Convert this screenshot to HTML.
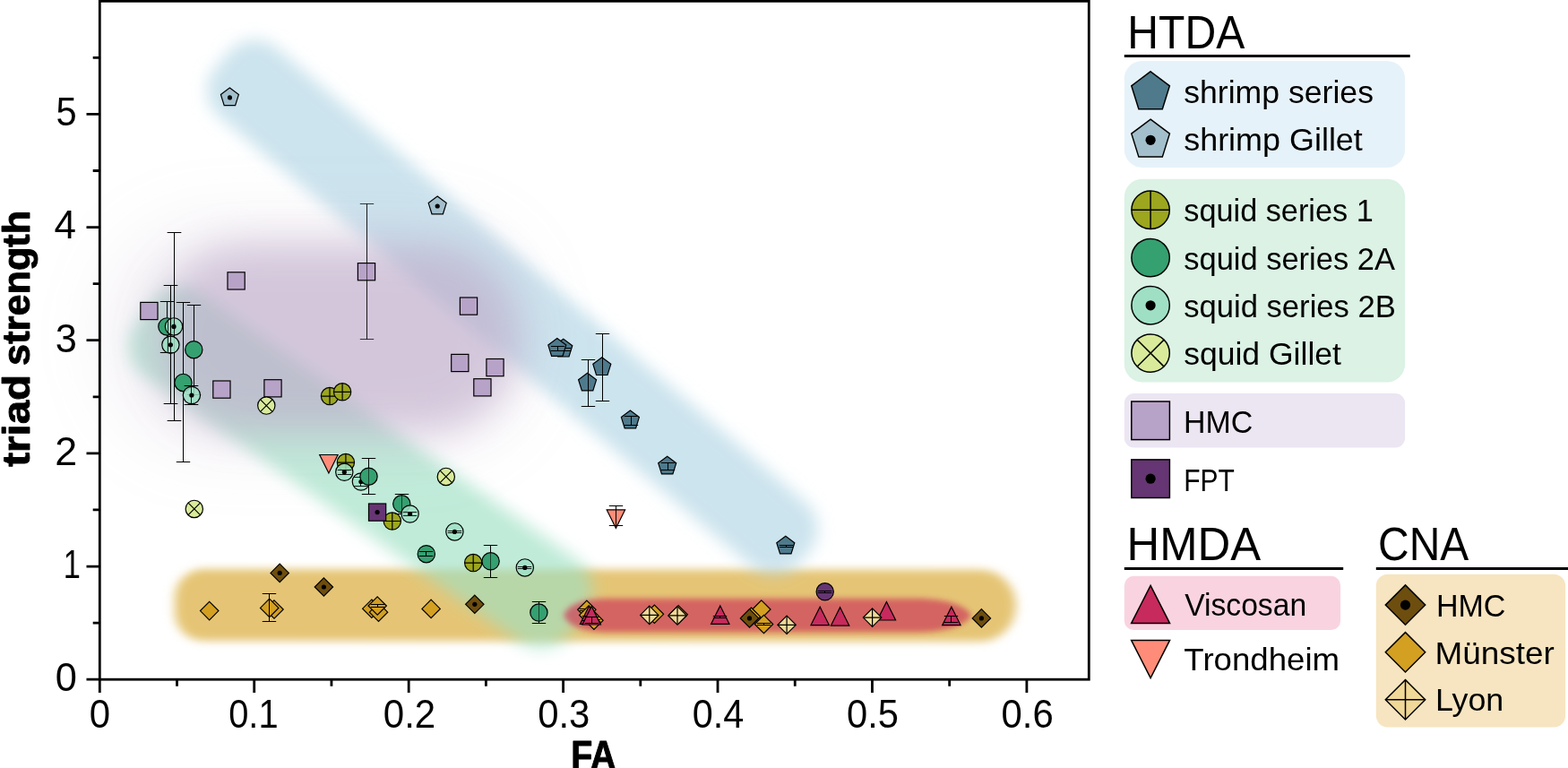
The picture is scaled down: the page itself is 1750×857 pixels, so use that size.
<!DOCTYPE html>
<html lang="en"><head><meta charset="utf-8">
<style>html,body{margin:0;padding:0;background:#fff}body{width:1750px;height:857px;overflow:hidden}svg{display:block}text{font-family:"Liberation Sans", sans-serif;fill:#000}</style>
</head><body>
<svg width="1750" height="857" viewBox="0 0 1750 857">
<defs>
<filter id="b3" x="-100" y="-100" width="1950" height="1060" filterUnits="userSpaceOnUse"><feGaussianBlur stdDeviation="3"/></filter>
<filter id="b5" x="-100" y="-100" width="1950" height="1060" filterUnits="userSpaceOnUse"><feGaussianBlur stdDeviation="5"/></filter>
<filter id="b10" x="-100" y="-100" width="1950" height="1060" filterUnits="userSpaceOnUse"><feGaussianBlur stdDeviation="10"/></filter>
<filter id="b12" x="-100" y="-100" width="1950" height="1060" filterUnits="userSpaceOnUse"><feGaussianBlur stdDeviation="12"/></filter>
<filter id="b15" x="-100" y="-100" width="1950" height="1060" filterUnits="userSpaceOnUse"><feGaussianBlur stdDeviation="15"/></filter>
<filter id="b17" x="-100" y="-100" width="1950" height="1060" filterUnits="userSpaceOnUse"><feGaussianBlur stdDeviation="17"/></filter>
<filter id="b20" x="-100" y="-100" width="1950" height="1060" filterUnits="userSpaceOnUse"><feGaussianBlur stdDeviation="20"/></filter>
<filter id="b24" x="-100" y="-100" width="1950" height="1060" filterUnits="userSpaceOnUse"><feGaussianBlur stdDeviation="24"/></filter>
<filter id="b9" x="-100" y="-100" width="1950" height="1060" filterUnits="userSpaceOnUse"><feGaussianBlur stdDeviation="9"/></filter>
<filter id="b22" x="-100" y="-100" width="1950" height="1060" filterUnits="userSpaceOnUse"><feGaussianBlur stdDeviation="22"/></filter>
<filter id="b32" x="-100" y="-100" width="1950" height="1060" filterUnits="userSpaceOnUse"><feGaussianBlur stdDeviation="32"/></filter>
<filter id="b28" x="-100" y="-100" width="1950" height="1060" filterUnits="userSpaceOnUse"><feGaussianBlur stdDeviation="28"/></filter>
<filter id="b36" x="-100" y="-100" width="1950" height="1060" filterUnits="userSpaceOnUse"><feGaussianBlur stdDeviation="36"/></filter>
<filter id="b8" x="-100" y="-100" width="1950" height="1060" filterUnits="userSpaceOnUse"><feGaussianBlur stdDeviation="8"/></filter>
<filter id="b7" x="-100" y="-100" width="1950" height="1060" filterUnits="userSpaceOnUse"><feGaussianBlur stdDeviation="7"/></filter>
<filter id="b4" x="-100" y="-100" width="1950" height="1060" filterUnits="userSpaceOnUse"><feGaussianBlur stdDeviation="4"/></filter>
<filter id="b6" x="-100" y="-100" width="1950" height="1060" filterUnits="userSpaceOnUse"><feGaussianBlur stdDeviation="6"/></filter>
<filter id="bred" x="-100" y="-100" width="1950" height="1060" filterUnits="userSpaceOnUse"><feGaussianBlur stdDeviation="9 2.6"/></filter>
<filter id="byel" x="-100" y="-100" width="1950" height="1060" filterUnits="userSpaceOnUse"><feGaussianBlur stdDeviation="6 4.8"/></filter>
</defs>
<rect x="0" y="0" width="1750" height="857" fill="#ffffff"/>

<g id="bands" fill="none" stroke-linecap="round">
<path d="M227 635H1094A40 40 0 0 1 1094 715H227A32 32 0 0 1 195 683V667A32 32 0 0 1 227 635Z" transform="rotate(0.05 195 675)" fill="#e5c575" stroke="none" filter="url(#byel)"/>
<path d="M255.8 57.8C269.3 41.8 293.2 39.9 309.1 53.6L899.4 560.9C915.3 574.6 917.2 598.7 903.6 614.7L892.7 627.7C879.1 643.7 855.1 645.7 839.1 632.2L244.7 129.7C228.7 116.2 226.7 92.2 240.2 76.2Z" fill="#b0d5e5" fill-opacity="0.65" stroke="none" filter="url(#b9)"/>
<rect x="105.2" y="466.0" width="594.6" height="112.0" rx="40" ry="40" transform="rotate(35.35 402.5 522.0)" fill="#9ee0c4" fill-opacity="0.65" stroke="none" filter="url(#b9)"/>
<rect x="120" y="250" width="470" height="250" rx="120" ry="120" fill="#bca8c9" fill-opacity="0.2" stroke="none" filter="url(#b36)"/>
<rect x="174" y="273" width="406" height="208" rx="102" ry="102" fill="#bca8c9" fill-opacity="0.57" stroke="none" filter="url(#b22)"/>
<path d="M629 686.6C634 674 652 667.8 680 667.8H1020C1052 667.8 1077 674 1084 686.8C1077 699.6 1052 705.6 1020 705.6H680C652 705.6 634 699.4 629 686.6Z" fill="#cd3a58" fill-opacity="0.69" stroke="none" filter="url(#b3)"/>
</g>

<g id="points">
<polygon points="233.7,671.4 243.9,681.6 233.7,691.8 223.5,681.6" fill="#d4a021" stroke="#000" stroke-width="1.2"/>
<polygon points="306.0,669.8 316.2,680.0 306.0,690.2 295.8,680.0" fill="#d4a021" stroke="#000" stroke-width="1.2"/>
<polygon points="300.7,668.2 310.9,678.4 300.7,688.6 290.5,678.4" fill="#d4a021" stroke="#000" stroke-width="1.2"/>
<path d="M300.5 662.5V693.5M292.8 662.5H308.2M292.8 693.5H308.2" fill="none" stroke="#000" stroke-width="1.0"/>
<polygon points="414.8,669.0 425.0,679.2 414.8,689.4 404.6,679.2" fill="#d4a021" stroke="#000" stroke-width="1.2"/>
<polygon points="422.5,673.0 432.7,683.2 422.5,693.4 412.3,683.2" fill="#d4a021" stroke="#000" stroke-width="1.2"/>
<polygon points="421.2,665.8 431.4,676.0 421.2,686.2 411.0,676.0" fill="#d4a021" stroke="#000" stroke-width="1.2"/>
<path d="M421.5 674.5V677.5M413.8 674.5H429.2M413.8 677.5H429.2" fill="none" stroke="#000" stroke-width="1.0"/>
<polygon points="481.1,669.2 491.3,679.4 481.1,689.6 470.9,679.4" fill="#d4a021" stroke="#000" stroke-width="1.2"/>
<polygon points="654.9,670.1 665.1,680.3 654.9,690.5 644.7,680.3" fill="#d4a021" stroke="#000" stroke-width="1.2"/>
<path d="M654.5 679.5V681.5M646.8 679.5H662.2M646.8 681.5H662.2" fill="none" stroke="#000" stroke-width="1.0"/>
<polygon points="656.8,676.2 667.0,686.4 656.8,696.6 646.6,686.4" fill="#d4a021" stroke="#000" stroke-width="1.2"/>
<polygon points="662.9,682.1 673.1,692.3 662.9,702.5 652.7,692.3" fill="#d4a021" stroke="#000" stroke-width="1.2"/>
<path d="M662.5 691.5V693.5M654.8 691.5H670.2M654.8 693.5H670.2" fill="none" stroke="#000" stroke-width="1.0"/>
<polygon points="730.4,675.1 740.6,685.3 730.4,695.5 720.2,685.3" fill="#d4a021" stroke="#000" stroke-width="1.2"/>
<polygon points="757.2,675.6 767.4,685.8 757.2,696.0 747.0,685.8" fill="#d4a021" stroke="#000" stroke-width="1.2"/>
<polygon points="849.8,669.8 860.0,680.0 849.8,690.2 839.6,680.0" fill="#d4a021" stroke="#000" stroke-width="1.2"/>
<polygon points="852.5,686.3 862.7,696.5 852.5,706.7 842.3,696.5" fill="#d4a021" stroke="#000" stroke-width="1.2"/>
<path d="M852.5 695.5V697.5M844.8 695.5H860.2M844.8 697.5H860.2" fill="none" stroke="#000" stroke-width="1.0"/>
<polygon points="838.4,678.0 848.6,688.2 838.4,698.4 828.2,688.2" fill="#d4a021" stroke="#000" stroke-width="1.2"/>
<rect x="156.8" y="337.4" width="19.2" height="19.2" fill="#b8a3c8" stroke="#000" stroke-width="1.2"/>
<rect x="254.0" y="303.8" width="19.2" height="19.2" fill="#b8a3c8" stroke="#000" stroke-width="1.2"/>
<path d="M409.5 227.5V378.5M401.8 227.5H417.2M401.8 378.5H417.2" fill="none" stroke="#000" stroke-opacity="0.75" stroke-width="1.0"/>
<rect x="399.4" y="293.6" width="19.2" height="19.2" fill="#b8a3c8" stroke="#000" stroke-width="1.2"/>
<path d="M409.5 227.5V378.6" stroke="#000" stroke-opacity="0.55" stroke-width="1"/>
<rect x="513.4" y="332.0" width="19.2" height="19.2" fill="#b8a3c8" stroke="#000" stroke-width="1.2"/>
<rect x="237.8" y="425.0" width="19.2" height="19.2" fill="#b8a3c8" stroke="#000" stroke-width="1.2"/>
<rect x="294.9" y="423.7" width="19.2" height="19.2" fill="#b8a3c8" stroke="#000" stroke-width="1.2"/>
<rect x="503.7" y="395.4" width="19.2" height="19.2" fill="#b8a3c8" stroke="#000" stroke-width="1.2"/>
<rect x="542.9" y="400.5" width="19.2" height="19.2" fill="#b8a3c8" stroke="#000" stroke-width="1.2"/>
<rect x="528.8" y="422.7" width="19.2" height="19.2" fill="#b8a3c8" stroke="#000" stroke-width="1.2"/>
<circle cx="297.3" cy="452.6" r="9.65" fill="#d9eb9a" stroke="#000" stroke-width="1.2"/>
<path d="M290.6 445.9L304.0 459.3M290.6 459.3L304.0 445.9" fill="none" stroke="#000" stroke-width="1.2"/>
<circle cx="216.8" cy="567.9" r="9.65" fill="#d9eb9a" stroke="#000" stroke-width="1.2"/>
<path d="M210.1 561.2L223.5 574.6M210.1 574.6L223.5 561.2" fill="none" stroke="#000" stroke-width="1.2"/>
<circle cx="497.8" cy="531.9" r="9.65" fill="#d9eb9a" stroke="#000" stroke-width="1.2"/>
<path d="M491.1 525.2L504.5 538.6M491.1 538.6L504.5 525.2" fill="none" stroke="#000" stroke-width="1.2"/>
<circle cx="368.0" cy="442.1" r="9.65" fill="#9ca61e" stroke="#000" stroke-width="1.2"/>
<path d="M358.5 442.1H377.5M368.0 432.6V451.6" fill="none" stroke="#000" stroke-width="1.2"/>
<circle cx="382.1" cy="437.3" r="9.65" fill="#9ca61e" stroke="#000" stroke-width="1.2"/>
<path d="M372.6 437.3H391.6M382.1 427.8V446.8" fill="none" stroke="#000" stroke-width="1.2"/>
<circle cx="385.9" cy="516.1" r="9.65" fill="#9ca61e" stroke="#000" stroke-width="1.2"/>
<path d="M376.4 516.1H395.4M385.9 506.6V525.6" fill="none" stroke="#000" stroke-width="1.2"/>
<circle cx="437.8" cy="581.5" r="9.65" fill="#9ca61e" stroke="#000" stroke-width="1.2"/>
<path d="M428.3 581.5H447.3M437.8 572.0V591.0" fill="none" stroke="#000" stroke-width="1.2"/>
<circle cx="528.2" cy="628.1" r="9.65" fill="#9ca61e" stroke="#000" stroke-width="1.2"/>
<path d="M518.7 628.1H537.7M528.2 618.6V637.6" fill="none" stroke="#000" stroke-width="1.2"/>
<path d="M186.5 336.5V393.5M178.8 336.5H194.2M178.8 393.5H194.2" fill="none" stroke="#000" stroke-width="1.0"/>
<circle cx="186.4" cy="364.4" r="9.65" fill="#35a070" stroke="#000" stroke-width="1.2"/>
<path d="M216.5 340.5V440.5M208.8 340.5H224.2M208.8 440.5H224.2" fill="none" stroke="#000" stroke-width="1.0"/>
<circle cx="216.3" cy="390.2" r="9.65" fill="#35a070" stroke="#000" stroke-width="1.2"/>
<path d="M204.5 337.5V515.5M196.8 337.5H212.2M196.8 515.5H212.2" fill="none" stroke="#000" stroke-width="1.0"/>
<circle cx="204.5" cy="426.9" r="9.65" fill="#35a070" stroke="#000" stroke-width="1.2"/>
<path d="M448.5 551.5V573.5M440.8 551.5H456.2M440.8 573.5H456.2" fill="none" stroke="#000" stroke-width="1.0"/>
<circle cx="448.3" cy="562.3" r="9.65" fill="#35a070" stroke="#000" stroke-width="1.2"/>
<path d="M448.5 551.6V573.0" stroke="#000" stroke-opacity="0.6" stroke-width="1"/>
<path d="M475.5 615.5V620.5M467.8 615.5H483.2M467.8 620.5H483.2" fill="none" stroke="#000" stroke-width="1.0"/>
<circle cx="475.8" cy="618.2" r="9.65" fill="#35a070" stroke="#000" stroke-width="1.2"/>
<path d="M475.5 615.6V620.4" stroke="#000" stroke-opacity="0.6" stroke-width="1"/>
<path d="M475.5 615.5V620.5M467.8 615.5H483.2M467.8 620.5H483.2" fill="none" stroke="#000" stroke-width="1.0"/>
<path d="M547.5 608.5V644.5M539.8 608.5H555.2M539.8 644.5H555.2" fill="none" stroke="#000" stroke-width="1.0"/>
<circle cx="547.6" cy="626.3" r="9.65" fill="#35a070" stroke="#000" stroke-width="1.2"/>
<path d="M547.5 608.0V644.4" stroke="#000" stroke-opacity="0.6" stroke-width="1"/>
<path d="M601.5 671.5V695.5M593.8 671.5H609.2M593.8 695.5H609.2" fill="none" stroke="#000" stroke-width="1.0"/>
<circle cx="601.4" cy="683.6" r="9.65" fill="#35a070" stroke="#000" stroke-width="1.2"/>
<path d="M601.5 671.3V695.8" stroke="#000" stroke-opacity="0.6" stroke-width="1"/>
<path d="M194.5 259.5V469.5M186.8 259.5H202.2M186.8 469.5H202.2" fill="none" stroke="#000" stroke-width="1.0"/>
<circle cx="194.0" cy="364.4" r="9.65" fill="#9fe0c5" fill-opacity="0.85" stroke="#000" stroke-width="1.2"/>
<path d="M194.5 259.5V469.5M186.8 259.5H202.2M186.8 469.5H202.2" fill="none" stroke="#000" stroke-opacity="0.85" stroke-width="1.0"/>
<circle cx="194.0" cy="364.4" r="2.6" fill="#000"/>
<path d="M190.5 318.5V450.5M182.8 318.5H198.2M182.8 450.5H198.2" fill="none" stroke="#000" stroke-width="1.0"/>
<circle cx="190.4" cy="384.8" r="9.65" fill="#9fe0c5" fill-opacity="0.85" stroke="#000" stroke-width="1.2"/>
<path d="M190.5 318.5V450.5M182.8 318.5H198.2M182.8 450.5H198.2" fill="none" stroke="#000" stroke-opacity="0.85" stroke-width="1.0"/>
<circle cx="190.4" cy="384.8" r="2.6" fill="#000"/>
<path d="M213.5 430.5V451.5M205.8 430.5H221.2M205.8 451.5H221.2" fill="none" stroke="#000" stroke-width="1.0"/>
<circle cx="213.9" cy="441.0" r="9.65" fill="#9fe0c5" fill-opacity="0.85" stroke="#000" stroke-width="1.2"/>
<path d="M213.5 430.5V451.5M205.8 430.5H221.2M205.8 451.5H221.2" fill="none" stroke="#000" stroke-opacity="0.85" stroke-width="1.0"/>
<circle cx="213.9" cy="441.0" r="2.6" fill="#000"/>
<path d="M384.5 524.5V529.5M376.8 524.5H392.2M376.8 529.5H392.2" fill="none" stroke="#000" stroke-width="1.0"/>
<circle cx="384.3" cy="526.8" r="9.65" fill="#9fe0c5" fill-opacity="0.85" stroke="#000" stroke-width="1.2"/>
<path d="M384.5 524.5V529.5M376.8 524.5H392.2M376.8 529.5H392.2" fill="none" stroke="#000" stroke-opacity="0.85" stroke-width="1.0"/>
<circle cx="384.3" cy="526.8" r="2.6" fill="#000"/>
<path d="M402.5 532.5V542.5M394.8 532.5H410.2M394.8 542.5H410.2" fill="none" stroke="#000" stroke-width="1.0"/>
<circle cx="402.9" cy="537.5" r="9.65" fill="#9fe0c5" fill-opacity="0.85" stroke="#000" stroke-width="1.2"/>
<path d="M402.5 532.5V542.5M394.8 532.5H410.2M394.8 542.5H410.2" fill="none" stroke="#000" stroke-opacity="0.85" stroke-width="1.0"/>
<circle cx="402.9" cy="537.5" r="2.6" fill="#000"/>
<path d="M457.5 571.5V575.5M449.8 571.5H465.2M449.8 575.5H465.2" fill="none" stroke="#000" stroke-width="1.0"/>
<circle cx="457.6" cy="573.5" r="9.65" fill="#9fe0c5" fill-opacity="0.85" stroke="#000" stroke-width="1.2"/>
<path d="M457.5 571.5V575.5M449.8 571.5H465.2M449.8 575.5H465.2" fill="none" stroke="#000" stroke-opacity="0.85" stroke-width="1.0"/>
<circle cx="457.6" cy="573.5" r="2.6" fill="#000"/>
<path d="M507.5 592.5V594.5M499.8 592.5H515.2M499.8 594.5H515.2" fill="none" stroke="#000" stroke-width="1.0"/>
<circle cx="507.4" cy="593.4" r="9.65" fill="#9fe0c5" fill-opacity="0.85" stroke="#000" stroke-width="1.2"/>
<path d="M507.5 592.5V594.5M499.8 592.5H515.2M499.8 594.5H515.2" fill="none" stroke="#000" stroke-opacity="0.85" stroke-width="1.0"/>
<circle cx="507.4" cy="593.4" r="2.6" fill="#000"/>
<path d="M585.5 632.5V634.5M577.8 632.5H593.2M577.8 634.5H593.2" fill="none" stroke="#000" stroke-width="1.0"/>
<circle cx="585.8" cy="633.4" r="9.65" fill="#9fe0c5" fill-opacity="0.85" stroke="#000" stroke-width="1.2"/>
<path d="M585.5 632.5V634.5M577.8 632.5H593.2M577.8 634.5H593.2" fill="none" stroke="#000" stroke-opacity="0.85" stroke-width="1.0"/>
<circle cx="585.8" cy="633.4" r="2.6" fill="#000"/>
<path d="M187.5 357.4V371.4M187.5 374V393.5M179.7 393.5H195.3" fill="none" stroke="#000" stroke-opacity="0.8" stroke-width="1"/>
<path d="M411.5 511.5V551.5M403.8 511.5H419.2M403.8 551.5H419.2" fill="none" stroke="#000" stroke-width="1.0"/>
<circle cx="411.5" cy="531.7" r="9.65" fill="#35a070" stroke="#000" stroke-width="1.2"/>
<path d="M411.5 511.4V551.5" stroke="#000" stroke-opacity="0.6" stroke-width="1"/>
<rect x="411.5" y="562.0" width="19.2" height="19.2" fill="#663573" stroke="#000" stroke-width="1.2"/>
<circle cx="421.1" cy="571.6" r="2.6" fill="#000"/>
<circle cx="920.7" cy="660.3" r="9.65" fill="#663573" stroke="#000" stroke-width="1.2"/>
<path d="M920.5 659.5V661.5M912.8 659.5H928.2M912.8 661.5H928.2" fill="none" stroke="#000" stroke-width="1.0"/>
<polygon points="356.7,507.5 377.1,507.5 366.9,527.9" fill="#ff8c78" stroke="#000" stroke-width="1.2"/>
<polygon points="677.2,568.9 697.6,568.9 687.4,589.3" fill="#ff8c78" stroke="#000" stroke-width="1.2"/>
<path d="M687.5 564.5V586.5M679.8 564.5H695.2M679.8 586.5H695.2" fill="none" stroke="#000" stroke-width="1.0"/>
<polygon points="657.6,676.0 667.8,696.4 647.4,696.4" fill="#c72a5c" stroke="#000" stroke-width="1.2"/>
<path d="M657.5 687.5V692.5M649.8 687.5H665.2M649.8 692.5H665.2" fill="none" stroke="#000" stroke-width="1.0"/>
<polygon points="660.2,676.6 670.4,697.0 650.0,697.0" fill="#c72a5c" stroke="#000" stroke-width="1.2"/>
<path d="M660.5 688.5V695.5M652.8 688.5H668.2M652.8 695.5H668.2" fill="none" stroke="#000" stroke-width="1.0"/>
<polygon points="803.8,675.9 814.0,696.3 793.6,696.3" fill="#c72a5c" stroke="#000" stroke-width="1.2"/>
<path d="M803.5 687.5V689.5M795.8 687.5H811.2M795.8 689.5H811.2" fill="none" stroke="#000" stroke-width="1.0"/>
<polygon points="915.2,677.2 925.4,697.6 905.0,697.6" fill="#c72a5c" stroke="#000" stroke-width="1.2"/>
<polygon points="937.6,677.7 947.8,698.1 927.4,698.1" fill="#c72a5c" stroke="#000" stroke-width="1.2"/>
<polygon points="989.4,671.6 999.6,692.0 979.2,692.0" fill="#c72a5c" stroke="#000" stroke-width="1.2"/>
<polygon points="1061.9,677.2 1072.1,697.6 1051.7,697.6" fill="#c72a5c" stroke="#000" stroke-width="1.2"/>
<path d="M1061.5 687.5V694.5M1053.8 687.5H1069.2M1053.8 694.5H1069.2" fill="none" stroke="#000" stroke-width="1.0"/>
<polygon points="312.2,629.2 322.4,639.4 312.2,649.6 302.0,639.4" fill="#6e4e0e" stroke="#000" stroke-width="1.2"/>
<circle cx="312.2" cy="639.4" r="2.6" fill="#000"/>
<polygon points="361.4,644.8 371.6,655.0 361.4,665.2 351.2,655.0" fill="#6e4e0e" stroke="#000" stroke-width="1.2"/>
<circle cx="361.4" cy="655.0" r="2.6" fill="#000"/>
<polygon points="529.8,664.1 540.0,674.3 529.8,684.5 519.6,674.3" fill="#6e4e0e" stroke="#000" stroke-width="1.2"/>
<circle cx="529.8" cy="674.3" r="2.6" fill="#000"/>
<polygon points="836.5,679.7 846.7,689.9 836.5,700.1 826.3,689.9" fill="#6e4e0e" stroke="#000" stroke-width="1.2"/>
<circle cx="836.5" cy="689.9" r="2.6" fill="#000"/>
<polygon points="1095.4,679.7 1105.6,689.9 1095.4,700.1 1085.2,689.9" fill="#6e4e0e" stroke="#000" stroke-width="1.2"/>
<circle cx="1095.4" cy="689.9" r="2.6" fill="#000"/>
<polygon points="724.8,676.2 735.0,686.4 724.8,696.6 714.6,686.4" fill="#f0d898" stroke="#000" stroke-width="1.2"/>
<path d="M714.6 686.4H735.0M724.8 676.2V696.6" fill="none" stroke="#000" stroke-width="1.2"/>
<polygon points="756.0,676.7 766.2,686.9 756.0,697.1 745.8,686.9" fill="#f0d898" stroke="#000" stroke-width="1.2"/>
<path d="M745.8 686.9H766.2M756.0 676.7V697.1" fill="none" stroke="#000" stroke-width="1.2"/>
<polygon points="878.1,687.1 888.3,697.3 878.1,707.5 867.9,697.3" fill="#f0d898" stroke="#000" stroke-width="1.2"/>
<path d="M867.9 697.3H888.3M878.1 687.1V707.5" fill="none" stroke="#000" stroke-width="1.2"/>
<polygon points="973.6,678.9 983.8,689.1 973.6,699.3 963.4,689.1" fill="#f0d898" stroke="#000" stroke-width="1.2"/>
<path d="M963.4 689.1H983.8M973.6 678.9V699.3" fill="none" stroke="#000" stroke-width="1.2"/>
<polygon points="628.8,378.3 638.8,385.8 635.0,398.0 622.6,398.0 618.8,385.8" fill="#4f7a8c" stroke="#000" stroke-width="1.2" stroke-linejoin="miter"/>
<path d="M629.5 388.5V391.5M621.8 388.5H637.2M621.8 391.5H637.2" fill="none" stroke="#000" stroke-width="1.0"/>
<polygon points="621.8,377.6 631.8,385.1 628.0,397.3 615.6,397.3 611.8,385.1" fill="#4f7a8c" stroke="#000" stroke-width="1.2" stroke-linejoin="miter"/>
<path d="M622.5 386.5V391.5M614.8 386.5H630.2M614.8 391.5H630.2" fill="none" stroke="#000" stroke-width="1.0"/>
<polygon points="655.6,416.2 665.6,423.7 661.8,435.9 649.4,435.9 645.6,423.7" fill="#4f7a8c" stroke="#000" stroke-width="1.2" stroke-linejoin="miter"/>
<path d="M656.5 401.5V453.5M648.8 401.5H664.2M648.8 453.5H664.2" fill="none" stroke="#000" stroke-width="1.0"/>
<polygon points="671.8,398.8 681.8,406.3 678.0,418.5 665.6,418.5 661.8,406.3" fill="#4f7a8c" stroke="#000" stroke-width="1.2" stroke-linejoin="miter"/>
<path d="M672.5 372.5V447.5M664.8 372.5H680.2M664.8 447.5H680.2" fill="none" stroke="#000" stroke-width="1.0"/>
<polygon points="703.4,458.1 713.4,465.6 709.6,477.8 697.2,477.8 693.4,465.6" fill="#4f7a8c" stroke="#000" stroke-width="1.2" stroke-linejoin="miter"/>
<path d="M704.5 464.5V474.5M696.8 464.5H712.2M696.8 474.5H712.2" fill="none" stroke="#000" stroke-width="1.0"/>
<polygon points="744.7,509.2 754.7,516.7 750.9,528.9 738.5,528.9 734.7,516.7" fill="#4f7a8c" stroke="#000" stroke-width="1.2" stroke-linejoin="miter"/>
<path d="M745.5 516.5V524.5M737.8 516.5H753.2M737.8 524.5H753.2" fill="none" stroke="#000" stroke-width="1.0"/>
<polygon points="876.8,598.2 886.8,605.7 883.0,617.9 870.6,617.9 866.8,605.7" fill="#4f7a8c" stroke="#000" stroke-width="1.2" stroke-linejoin="miter"/>
<path d="M877.5 608.5V610.5M869.8 608.5H885.2M869.8 610.5H885.2" fill="none" stroke="#000" stroke-width="1.0"/>
<polygon points="256.4,98.0 266.4,105.5 262.6,117.7 250.2,117.7 246.4,105.5" fill="#a3bfcc" stroke="#000" stroke-width="1.2" stroke-linejoin="miter"/>
<circle cx="256.4" cy="108.9" r="2.6" fill="#000"/>
<polygon points="488.2,219.1 498.2,226.6 494.4,238.8 482.0,238.8 478.2,226.6" fill="#a3bfcc" stroke="#000" stroke-width="1.2" stroke-linejoin="miter"/>
<circle cx="488.2" cy="230.0" r="2.6" fill="#000"/>
</g>
<g id="axes" stroke="#000" fill="none" stroke-linecap="butt">
<rect x="111.3" y="1.3" width="1104.0" height="756.9" stroke-width="2.8"/>
<path d="M111.30 758.2V773.0M197.52 758.2V765.8M283.73 758.2V773.0M369.95 758.2V765.8M456.17 758.2V773.0M542.38 758.2V765.8M628.60 758.2V773.0M714.82 758.2V765.8M801.03 758.2V773.0M887.25 758.2V765.8M973.47 758.2V773.0M1059.68 758.2V765.8M1145.90 758.2V773.0M111.3 758.20H96.5M111.3 695.12H103.7M111.3 632.04H96.5M111.3 568.96H103.7M111.3 505.88H96.5M111.3 442.80H103.7M111.3 379.72H96.5M111.3 316.64H103.7M111.3 253.56H96.5M111.3 190.48H103.7M111.3 127.40H96.5M111.3 64.32H103.7" stroke-width="2.8"/>
</g>
<g id="ticklabels">
<text x="99.67" y="811.50" font-size="43.5" textLength="23.30" lengthAdjust="spacingAndGlyphs">0</text>
<text x="255.21" y="811.50" font-size="43.5" textLength="55.39" lengthAdjust="spacingAndGlyphs">0.1</text>
<text x="427.79" y="811.50" font-size="43.5" textLength="58.39" lengthAdjust="spacingAndGlyphs">0.2</text>
<text x="600.23" y="811.50" font-size="43.5" textLength="58.16" lengthAdjust="spacingAndGlyphs">0.3</text>
<text x="772.68" y="811.50" font-size="43.5" textLength="57.50" lengthAdjust="spacingAndGlyphs">0.4</text>
<text x="945.10" y="811.50" font-size="43.5" textLength="57.94" lengthAdjust="spacingAndGlyphs">0.5</text>
<text x="1117.53" y="811.50" font-size="43.5" textLength="58.16" lengthAdjust="spacingAndGlyphs">0.6</text>
<text x="61.67" y="771.10" font-size="43.5" textLength="24.12" lengthAdjust="spacingAndGlyphs">0</text>
<text x="70.82" y="644.94" font-size="43.5" textLength="19.14" lengthAdjust="spacingAndGlyphs">1</text>
<text x="61.36" y="518.78" font-size="43.5" textLength="24.94" lengthAdjust="spacingAndGlyphs">2</text>
<text x="61.86" y="392.62" font-size="43.5" textLength="24.14" lengthAdjust="spacingAndGlyphs">3</text>
<text x="60.50" y="266.46" font-size="43.5" textLength="24.47" lengthAdjust="spacingAndGlyphs">4</text>
<text x="62.53" y="140.30" font-size="43.5" textLength="23.18" lengthAdjust="spacingAndGlyphs">5</text>
</g>
<g id="axislabels">
<text x="637.24" y="857.60" font-size="43.5" font-weight="bold" textLength="50.25" lengthAdjust="spacingAndGlyphs" stroke="#000" stroke-width="0.9" stroke-linejoin="round">FA</text>
<g transform="translate(32.9 520.7) rotate(-90)"><text y="0" font-size="43" font-weight="bold" stroke="#000" stroke-width="0.9" stroke-linejoin="round"><tspan x="-0.07" textLength="102.75" lengthAdjust="spacingAndGlyphs">triad</tspan> <tspan x="112.79" textLength="173.11" lengthAdjust="spacingAndGlyphs">strength</tspan></text></g>
</g>
<g id="legend">
<rect x="1254.8" y="68" width="313.3" height="118.9" rx="20" ry="20" fill="#e6f2f9"/>
<rect x="1254.8" y="199.8" width="313.3" height="226.6" rx="20" ry="20" fill="#dbf2e5"/>
<rect x="1254.8" y="439" width="313.3" height="60.4" rx="11" ry="11" fill="#ece5f2"/>
<rect x="1254.8" y="642.8" width="241.3" height="60.2" rx="10.5" ry="10.5" fill="#f9d4e0"/>
<rect x="1535.8" y="640.8" width="211.3" height="170.8" rx="13" ry="13" fill="#f7e5c1"/>
<path d="M1254.8 62.4H1573.7M1254.8 634.6H1499.2M1535.8 634.6H1750" stroke="#000" stroke-width="3" fill="none"/>
<text x="1258.35" y="53.50" font-size="51.5" textLength="130.95" lengthAdjust="spacingAndGlyphs">HTDA</text>
<text x="1257.53" y="625.40" font-size="51.5" textLength="149.69" lengthAdjust="spacingAndGlyphs">HMDA</text>
<text x="1538.10" y="625.40" font-size="51.5" textLength="101.20" lengthAdjust="spacingAndGlyphs">CNA</text>
<polygon points="1284.1,79.8 1305.4,95.8 1297.3,121.8 1270.9,121.8 1262.8,95.8" fill="#4f7a8c" stroke="#000" stroke-width="1.5" stroke-linejoin="miter"/>
<text x="1321.23" y="114.80" font-size="35.2" textLength="211.75" lengthAdjust="spacingAndGlyphs">shrimp series</text>
<polygon points="1284.1,133.1 1305.4,149.1 1297.3,175.1 1270.9,175.1 1262.8,149.1" fill="#a3bfcc" stroke="#000" stroke-width="1.5" stroke-linejoin="miter"/>
<circle cx="1284.1" cy="156.3" r="5.6" fill="#000"/>
<text x="1321.22" y="168.00" font-size="35.2" textLength="199.62" lengthAdjust="spacingAndGlyphs">shrimp Gillet</text>
<circle cx="1284.1" cy="234.3" r="21.2" fill="#9ca61e" stroke="#000" stroke-width="1.5"/>
<path d="M1262.9 234.3H1305.3M1284.1 213.1V255.5" fill="none" stroke="#000" stroke-width="1.5"/>
<text x="1321.27" y="247.40" font-size="35.2" textLength="211.44" lengthAdjust="spacingAndGlyphs">squid series 1</text>
<circle cx="1284.1" cy="287.6" r="21.2" fill="#35a070" stroke="#000" stroke-width="1.5"/>
<text x="1321.27" y="300.60" font-size="35.2" textLength="235.60" lengthAdjust="spacingAndGlyphs">squid series 2A</text>
<circle cx="1284.1" cy="340.8" r="21.2" fill="#9fe0c5" stroke="#000" stroke-width="1.5"/>
<circle cx="1284.1" cy="340.8" r="5.6" fill="#000"/>
<text x="1321.26" y="353.80" font-size="35.2" textLength="236.54" lengthAdjust="spacingAndGlyphs">squid series 2B</text>
<circle cx="1284.1" cy="394.1" r="21.2" fill="#d9eb9a" stroke="#000" stroke-width="1.5"/>
<path d="M1269.1 379.1L1299.1 409.1M1269.1 409.1L1299.1 379.1" fill="none" stroke="#000" stroke-width="1.5"/>
<text x="1321.23" y="407.00" font-size="35.2" textLength="175.71" lengthAdjust="spacingAndGlyphs">squid Gillet</text>
<rect x="1262.8" y="448.0" width="42.6" height="42.6" fill="#b8a3c8" stroke="#000" stroke-width="1.5"/>
<text x="1320.88" y="483.30" font-size="35.2" textLength="77.36" lengthAdjust="spacingAndGlyphs">HMC</text>
<rect x="1262.8" y="512.9" width="42.6" height="42.6" fill="#663573" stroke="#000" stroke-width="1.5"/>
<circle cx="1284.1" cy="534.2" r="5.6" fill="#000"/>
<text x="1321.20" y="548.20" font-size="35.2" textLength="56.71" lengthAdjust="spacingAndGlyphs">FPT</text>
<polygon points="1284.1,653.4 1305.6,695.6 1262.6,695.6" fill="#c72a5c" stroke="#000" stroke-width="1.5"/>
<text x="1322.13" y="686.60" font-size="35.2" textLength="136.04" lengthAdjust="spacingAndGlyphs">Viscosan</text>
<polygon points="1262.6,714.4 1305.6,714.4 1284.1,756.6" fill="#ff8c78" stroke="#000" stroke-width="1.5"/>
<text x="1321.38" y="748.30" font-size="35.2" textLength="173.70" lengthAdjust="spacingAndGlyphs">Trondheim</text>
<polygon points="1568.5,652.9 1590.7,675.1 1568.5,697.3 1546.3,675.1" fill="#6e4e0e" stroke="#000" stroke-width="1.5"/>
<circle cx="1568.5" cy="675.1" r="5.6" fill="#000"/>
<text x="1602.88" y="687.80" font-size="35.2" textLength="77.57" lengthAdjust="spacingAndGlyphs">HMC</text>
<polygon points="1568.5,705.6 1590.7,727.8 1568.5,750.0 1546.3,727.8" fill="#d4a021" stroke="#000" stroke-width="1.5"/>
<text x="1601.45" y="740.50" font-size="35.2" textLength="133.29" lengthAdjust="spacingAndGlyphs">Münster</text>
<polygon points="1568.5,758.6 1590.7,780.8 1568.5,803.0 1546.3,780.8" fill="#f0d898" stroke="#000" stroke-width="1.5"/>
<path d="M1546.3 780.8H1590.7M1568.5 758.6V803.0" fill="none" stroke="#000" stroke-width="1.5"/>
<text x="1601.93" y="793.20" font-size="35.2" textLength="76.34" lengthAdjust="spacingAndGlyphs">Lyon</text>
</g>
</svg>
</body></html>
